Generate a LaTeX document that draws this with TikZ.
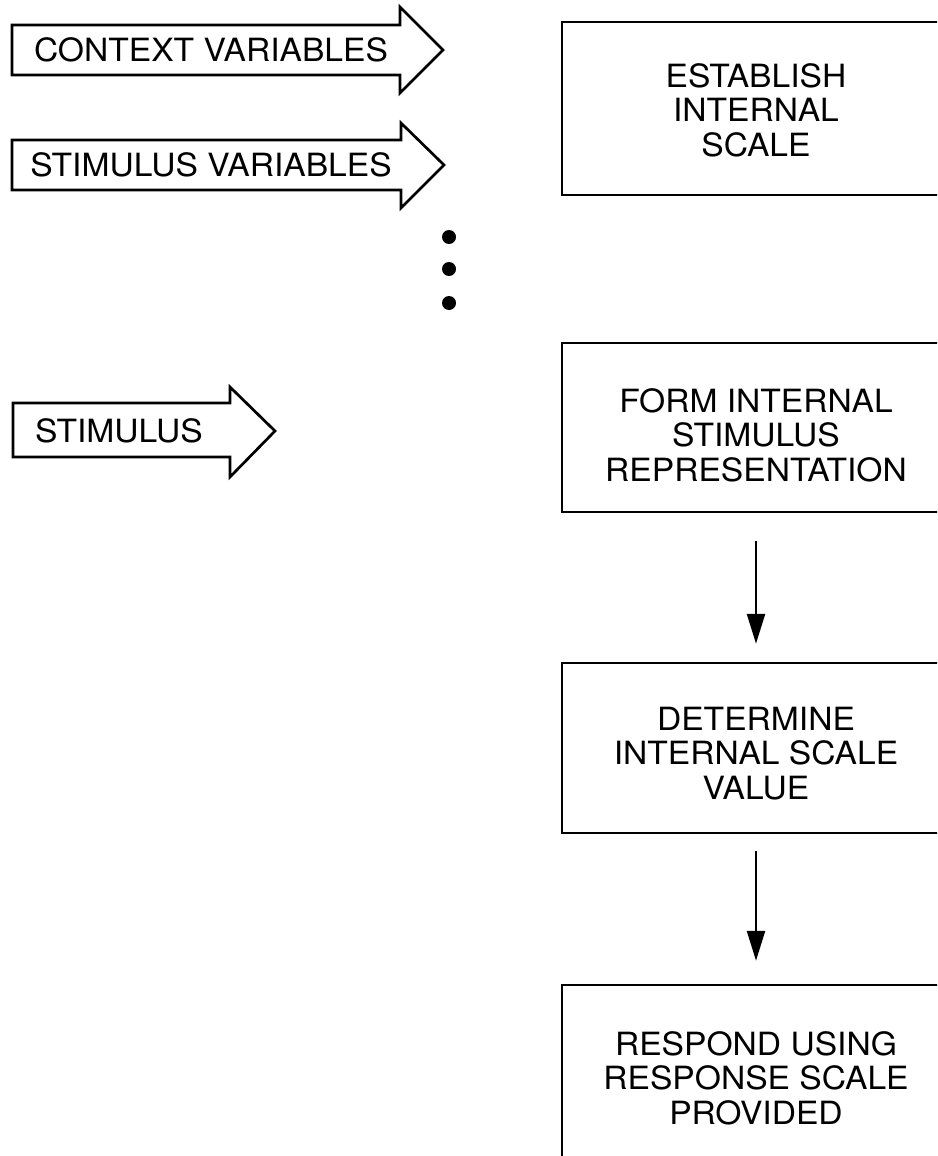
\documentclass[tikz,border=0pt]{standalone}
\usepackage{fontspec}
\setmainfont{TeX Gyre Heros}[FakeStretch=1.05]
\usetikzlibrary{arrows.meta}
\begin{document}
\begin{tikzpicture}[x=1pt,y=-1pt,
  lbl/.style={font=\fontsize{32}{34.5}\selectfont, align=center, inner sep=0pt},
  stepbox/.style={draw, line width=2.5pt, minimum width=388pt, lbl},
  blk/.style={draw, line width=2.7pt, line join=miter},
  flow/.style={line width=2.6pt, -{Triangle[length=30pt,width=18pt]}},
  dot/.style={circle, fill, inner sep=0pt, minimum size=14pt}]
\useasboundingbox (0,0) rectangle (937,1156);
\clip (0,0) rectangle (937,1156);

% block arrows (inputs)
\draw[blk] (12,25) -- (400,25) -- (400,7) -- (443,50) -- (400,93) -- (400,75) -- (12,75) -- cycle;
\node[lbl] (ctx) at (211,50) {CONTEXT VARIABLES};
\draw[blk] (12,140) -- (401,140) -- (401,123) -- (444,165) -- (401,208) -- (401,190) -- (12,190) -- cycle;
\node[lbl] (stv) at (211,165) {STIMULUS VARIABLES};
\draw[blk] (13,403) -- (230,403) -- (230,387) -- (275,431) -- (230,477) -- (230,457) -- (13,457) -- cycle;
\node[lbl] (stim) at (119,431) {STIMULUS};

% dots
\node[dot] (d1) at (449,237) {};
\node[dot] (d2) at (449,269) {};
\node[dot] (d3) at (449,303) {};

% process boxes
\node[stepbox, minimum height=173pt] (b1) at (756,108.5) {\rule{0pt}{27pt}ESTABLISH\\INTERNAL\\SCALE};
\node[stepbox, minimum height=169pt] (b2) at (756,427.5) {\rule{0pt}{39pt}FORM INTERNAL\\STIMULUS\\REPRESENTATION};
\node[stepbox, minimum height=170pt] (b3) at (756,748) {\rule{0pt}{34pt}DETERMINE\\INTERNAL SCALE\\VALUE};
\node[stepbox, minimum height=186pt] (b4) at (756,1078) {RESPOND USING\\RESPONSE SCALE\\PROVIDED};

% flow arrows
\draw[flow, shorten <=28pt, shorten >=18pt] (b2.south) -- (b3.north);
\draw[flow, shorten <=17pt, shorten >=23pt] (b3.south) -- (b4.north);
\end{tikzpicture}
\end{document}
